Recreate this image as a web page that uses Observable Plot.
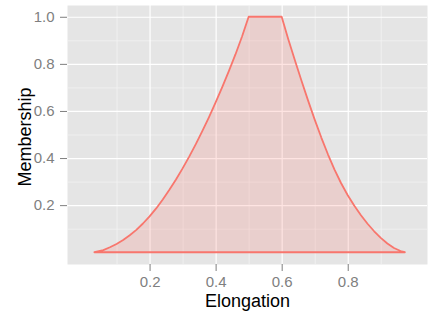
<!DOCTYPE html>
<html>
<head>
<meta charset="utf-8">
<script src="https://cdn.jsdelivr.net/npm/d3@7"></script>
<script src="https://cdn.jsdelivr.net/npm/@observablehq/plot@0.6"></script>
<style>
  html, body { margin: 0; padding: 0; background: #ffffff; }
  #chart { width: 428px; height: 311px; }
</style>
</head>
<body>
<div id="chart"></div>
<script>
// Membership function
const elongation = [
  0.033, 0.06, 0.08, 0.10, 0.12, 0.14, 0.16, 0.18, 0.20, 0.22, 0.24, 0.26,
  0.28, 0.30, 0.32, 0.34, 0.36, 0.38, 0.40, 0.42, 0.44, 0.46, 0.48, 0.50,
  0.60, 0.62, 0.64, 0.66, 0.68, 0.70, 0.72, 0.74, 0.76, 0.78, 0.80, 0.82,
  0.84, 0.86, 0.88, 0.90, 0.92, 0.94, 0.96, 0.973
];
const membership = [
  0.000, 0.009, 0.021, 0.035, 0.052, 0.072, 0.095, 0.122, 0.152, 0.186, 0.224, 0.265,
  0.309, 0.356, 0.406, 0.459, 0.515, 0.574, 0.636, 0.701, 0.769, 0.840, 0.916, 1.000,
  1.000, 0.905, 0.815, 0.728, 0.644, 0.563, 0.487, 0.416, 0.351, 0.293, 0.242, 0.197,
  0.157, 0.121, 0.089, 0.061, 0.037, 0.018, 0.005, 0.000
];
const xTicks = [0.2, 0.4, 0.6, 0.8];
const yTicks = [0.2, 0.4, 0.6, 0.8, 1.0];
const xMinor = [0.1, 0.3, 0.5, 0.7, 0.9];
const yMinor = [0.1, 0.3, 0.5, 0.7, 0.9];
const xTitle = "Elongation";
const yTitle = "Membership";

const data = elongation.map((x, i) => ({x, y: membership[i]}));
const fmt = d3.format(".1f");
const grey = "#7F7F7F";

const chart = Plot.plot({
  width: 428,
  height: 311,
  marginLeft: 67,
  marginRight: 1,
  marginTop: 5,
  marginBottom: 47,
  style: {fontFamily: "'Liberation Sans', Arial, Helvetica, sans-serif", background: "#ffffff"},
  x: {domain: [-0.05, 1.04]},
  y: {domain: [-0.05, 1.05]},
  marks: [
    Plot.frame({fill: "#E5E5E5", stroke: null}),
    Plot.gridX(xMinor, {stroke: "#F2F2F2", strokeOpacity: 1, strokeWidth: 0.8}),
    Plot.gridY(yMinor, {stroke: "#F2F2F2", strokeOpacity: 1, strokeWidth: 0.8}),
    Plot.gridX(xTicks, {stroke: "#FFFFFF", strokeOpacity: 1, strokeWidth: 1.2}),
    Plot.gridY(yTicks, {stroke: "#FFFFFF", strokeOpacity: 1, strokeWidth: 1.2}),
    Plot.areaY(data, {x: "x", y: "y", fill: "#F8766D", fillOpacity: 0.2, stroke: "#F8766D", strokeWidth: 1.8, strokeLinejoin: "round"}),
    Plot.axisX(xTicks, {tickFormat: fmt, tickSize: 7, tickPadding: 5, fontSize: 15, color: grey, label: null}),
    Plot.axisY(yTicks, {tickFormat: fmt, tickSize: 7, tickPadding: 6, fontSize: 15, color: grey, label: null}),
    Plot.text([xTitle], {frameAnchor: "bottom", lineAnchor: "bottom", dy: 42, fontSize: 18, fill: "#000000"}),
    Plot.text([yTitle], {frameAnchor: "left", rotate: -90, textAnchor: "middle", lineAnchor: "bottom", dx: -37, dy: 2, fontSize: 18, fill: "#000000"})
  ]
});
document.getElementById("chart").appendChild(chart);
</script>
</body>
</html>
